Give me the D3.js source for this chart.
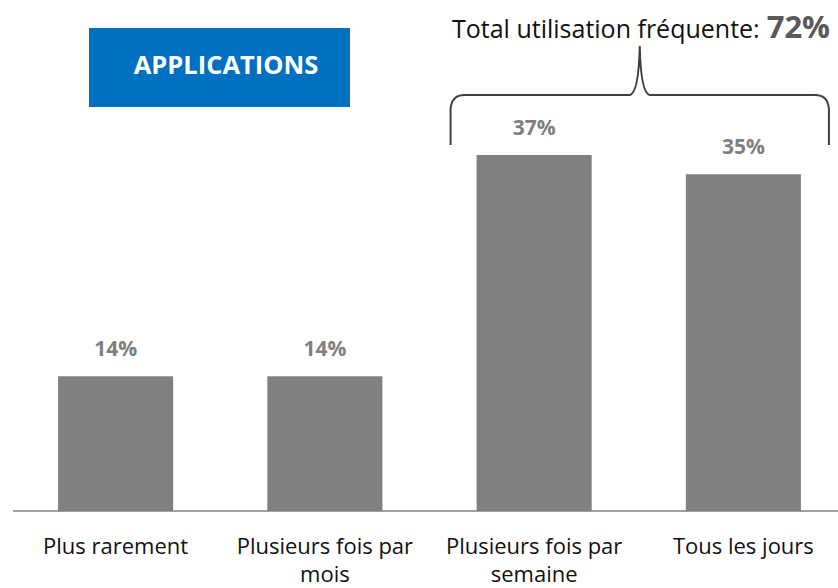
<!DOCTYPE html>
<html>
<head>
<meta charset="utf-8">
<script src="https://cdn.jsdelivr.net/npm/d3@7"></script>
<style>
  body { margin: 0; background: #fff; }
  svg { display: block; font-family: "Open Sans", sans-serif; }
</style>
</head>
<body>
<div id="chart"></div>
<script>
// data
const categories = ["Plus rarement", "Plusieurs fois par mois", "Plusieurs fois par semaine", "Tous les jours"];
const values = [14, 14, 37, 35];
const badgeText = "APPLICATIONS";
const totalLabel = "Total utilisation fréquente:";
const totalValue = "72%";
const bracketCats = ["Plusieurs fois par semaine", "Tous les jours"];

const width = 838;
const height = 588;
const baseY = 511;

const svg = d3.select("#chart")
  .append("svg")
    .attr("width", width)
    .attr("height", height)
    .attr("viewBox", `0 0 ${width} ${height}`);

const x = d3.scaleBand()
  .domain(categories)
  .range([11, 848])
  .paddingInner(0.45)
  .paddingOuter(0.225);

const y = d3.scaleLinear()
  .domain([0, 37])
  .range([baseY, 155]);

// bars
svg.selectAll("rect.bar")
  .data(values)
  .join("rect")
    .attr("class", "bar")
    .attr("x", (d, i) => x(categories[i]))
    .attr("y", d => y(d))
    .attr("width", x.bandwidth())
    .attr("height", d => y(0) - y(d))
    .style("fill", "#808080");

// value labels
svg.selectAll("text.val")
  .data(values)
  .join("text")
    .attr("class", "val")
    .attr("x", (d, i) => x(categories[i]) + x.bandwidth() / 2)
    .attr("y", d => y(d) - 20)
    .attr("text-anchor", "middle")
    .style("font-size", "21px")
    .style("font-weight", "bold")
    .style("fill", "#7f7f7f")
    .text(d => d + "%");

// baseline
svg.append("line")
  .attr("x1", 13).attr("x2", width)
  .attr("y1", baseY).attr("y2", baseY)
  .style("stroke", "#808080")
  .style("stroke-width", 1.5);

// category labels, wrapped
function wrap(text, maxWidth) {
  text.each(function(d) {
    const t = d3.select(this);
    const words = d.split(" ");
    let line = [];
    const cx = t.attr("x");
    let tspan = t.append("tspan").attr("x", cx).attr("dy", 0);
    words.forEach(w => {
      line.push(w);
      tspan.text(line.join(" "));
      if (tspan.node().getComputedTextLength() > maxWidth && line.length > 1) {
        line.pop();
        tspan.text(line.join(" "));
        line = [w];
        tspan = t.append("tspan").attr("x", cx).attr("dy", 28).text(w);
      }
    });
  });
}

svg.selectAll("text.cat")
  .data(categories)
  .join("text")
    .attr("class", "cat")
    .attr("x", d => x(d) + x.bandwidth() / 2)
    .attr("y", 554)
    .attr("text-anchor", "middle")
    .style("font-size", "22px")
    .style("fill", "#111")
    .call(wrap, 205);

// badge
svg.append("rect")
  .attr("x", 89).attr("y", 28)
  .attr("width", 261).attr("height", 79)
  .style("fill", "#0070c0");

svg.append("text")
  .attr("x", 226).attr("y", 74)
  .attr("text-anchor", "middle")
  .style("font-size", "25.5px")
  .style("font-weight", "bold")
  .style("fill", "#fff")
  .text(badgeText);

// bracket over frequent-use bars
const bx0 = x(bracketCats[0]) - 26;
const bx1 = x(bracketCats[1]) + x.bandwidth() + 28;
const bmid = (bx0 + bx1) / 2;
const bTop = 95, bBot = 145, tip = 46, r = 14;
const bracket = d3.path();
bracket.moveTo(bx0, bBot);
bracket.lineTo(bx0, bTop + r);
bracket.quadraticCurveTo(bx0 + 1, bTop, bx0 + r, bTop);
bracket.lineTo(bmid - 10, bTop);
bracket.quadraticCurveTo(bmid - 1, bTop - 2, bmid, tip);
bracket.quadraticCurveTo(bmid + 1, bTop - 2, bmid + 10, bTop);
bracket.lineTo(bx1 - r, bTop);
bracket.quadraticCurveTo(bx1 - 1, bTop, bx1, bTop + r);
bracket.lineTo(bx1, bBot);

svg.append("path")
  .attr("d", bracket.toString())
  .style("fill", "none")
  .style("stroke", "#404040")
  .style("stroke-width", 2);

const title = svg.append("text")
  .attr("x", 452).attr("y", 38)
  .style("fill", "#111");
title.append("tspan")
  .style("font-size", "25px")
  .text(totalLabel);
title.append("tspan")
  .attr("dx", 7)
  .style("font-size", "31px")
  .style("font-weight", "bold")
  .style("fill", "#595959")
  .text(totalValue);
</script>
</body>
</html>
